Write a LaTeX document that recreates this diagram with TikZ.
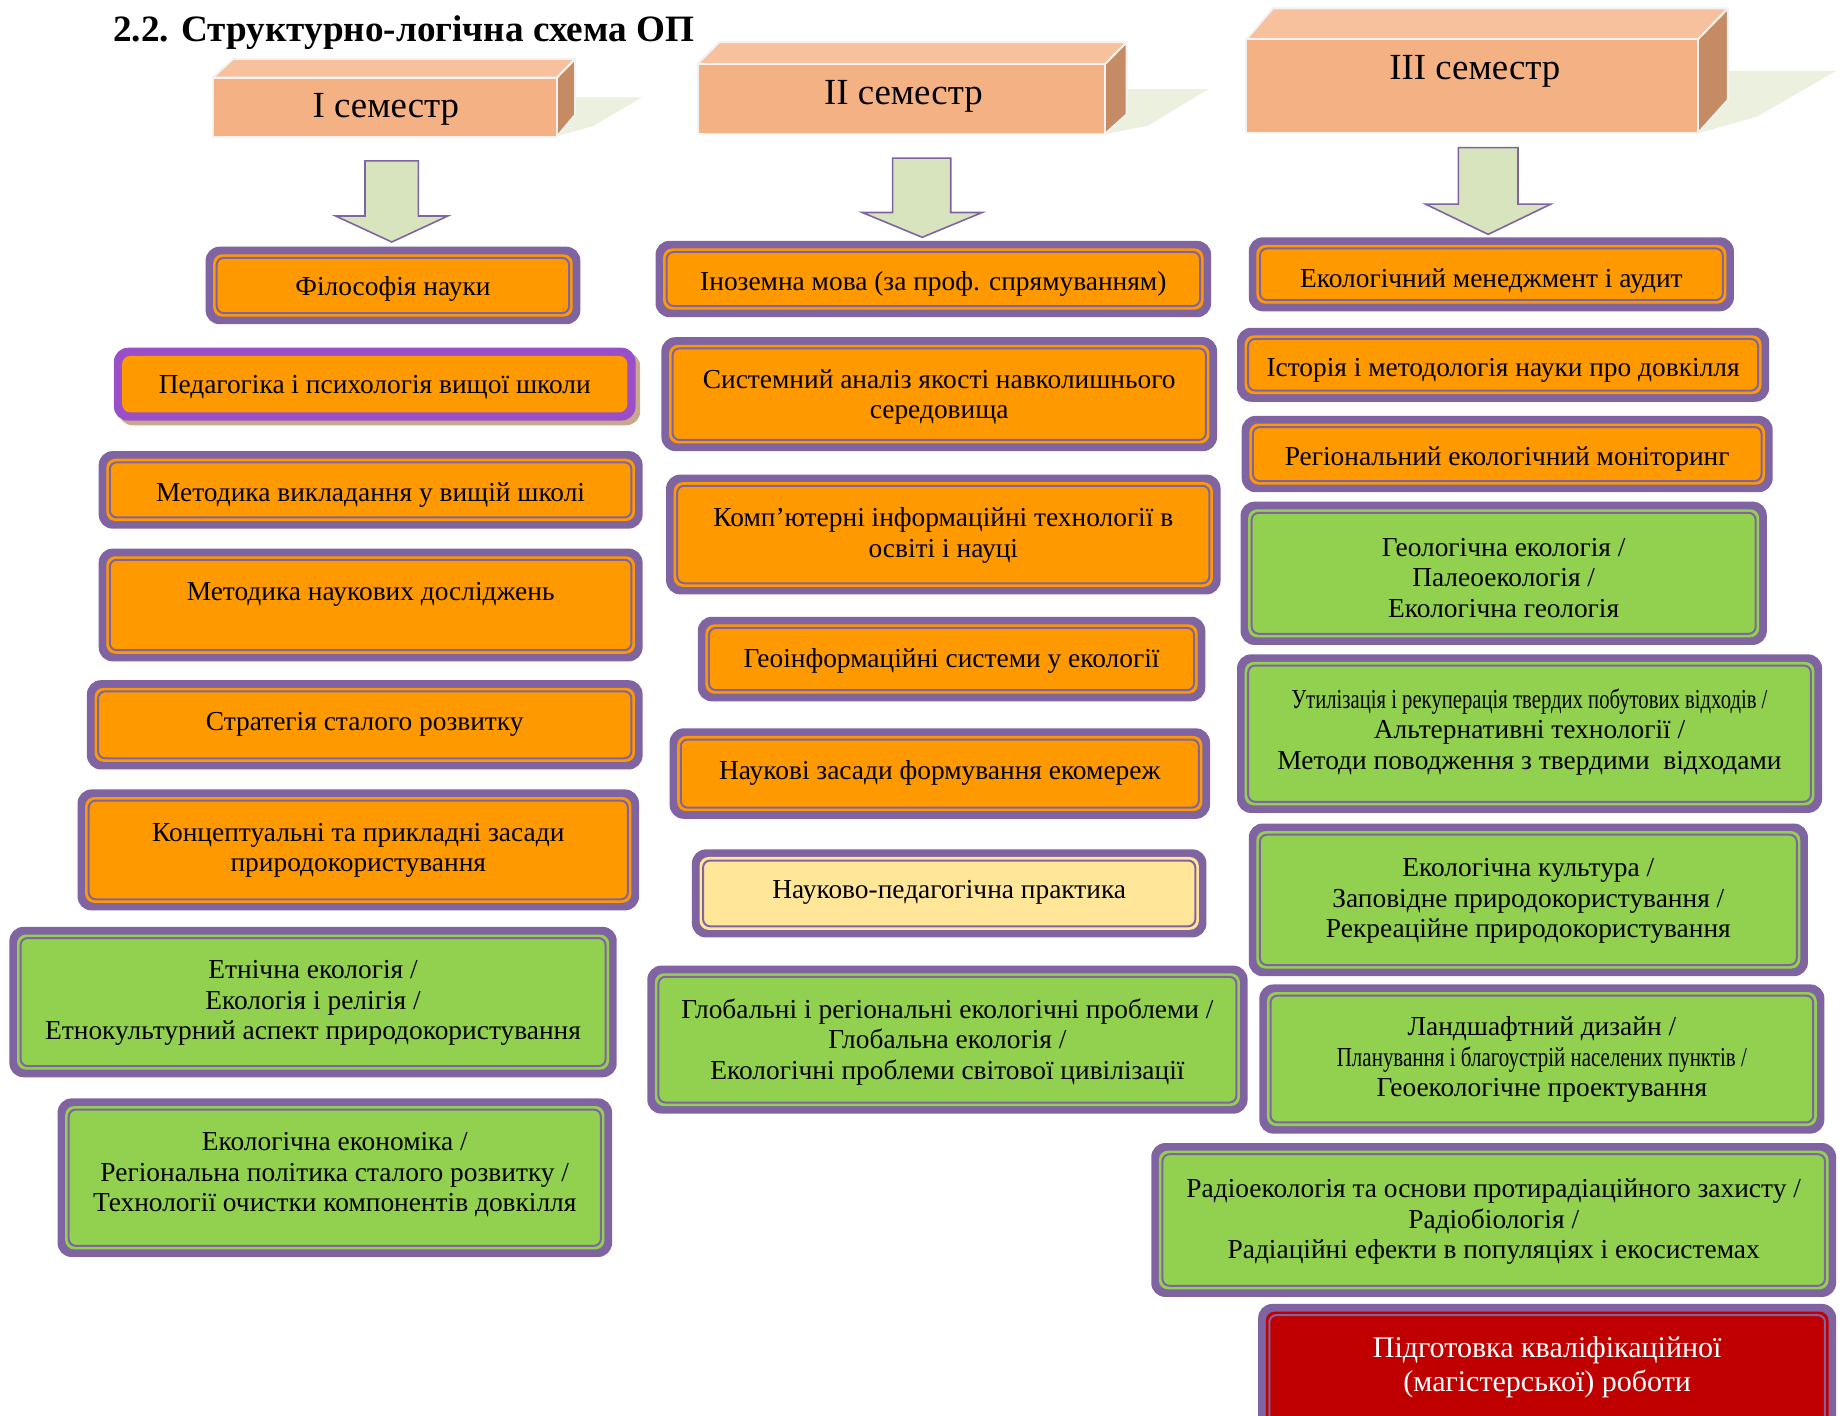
\documentclass[tikz,border=0pt]{standalone}
\usepackage{fontspec}
\setmainfont{Liberation Serif}
\usepackage{graphicx}
\definecolor{pur}{HTML}{8064A2}
\definecolor{org}{HTML}{FF9900}
\definecolor{grn}{HTML}{92D050}
\definecolor{ylw}{HTML}{FFE699}
\definecolor{redf}{HTML}{C00000}
\definecolor{vio}{HTML}{9A4EC8}
\definecolor{tanshd}{HTML}{C9A88C}
\definecolor{frontf}{HTML}{F4B183}
\definecolor{topf}{HTML}{F8C19D}
\definecolor{sidef}{HTML}{C48B65}
\definecolor{shd}{HTML}{EBF1DE}
\definecolor{arw}{HTML}{D7E4BD}
\definecolor{edgec}{HTML}{F2F2F2}
\tikzset{
  txt/.style={align=center,inner sep=0pt,font=\fontsize{13.7}{15.3}\selectfont},
  hdr/.style={inner sep=0pt,font=\fontsize{18.4}{20}\selectfont},
  face/.style={draw=edgec,line width=1pt,line join=round},
  blockarrow/.style={fill=arw,draw=pur,line width=0.8pt},
}
% #1 node options, #2 name, #3 fill, #4 x1, #5 y1, #6 x2, #7 y2, #8 text y, #9 text
\newcommand\cbox[9][]{%
  \fill[pur,rounded corners=7pt] (#4,#5) rectangle (#6,#7);
  \fill[#3,rounded corners=4.5pt] (#4+6.5,#5+6.5) rectangle (#6-6.5,#7-6.5);
  \draw[pur,line width=1pt,rounded corners=3.5pt] (#4+9.5,#5+9.5) rectangle (#6-9.5,#7-9.5);
  \node[txt,#1] (#2) at ({(#4+#6)/2},{#8+3}) {#9};
}
\begin{document}
\begin{tikzpicture}[x=0.5873pt,y=-0.5873pt]
\useasboundingbox (0,0) rectangle (1568,1205);
\clip (0,0) rectangle (1568,1205);
\fill[white] (0,0) rectangle (1568,1205);

% title
\node[anchor=base west,inner sep=0pt,font=\bfseries\fontsize{18.6}{20}\selectfont] (title) at (96,35) {2.2. Структурно-логічна схема ОП};

% ---- semester I header
\fill[shd] (473.9,116) -- (504.8,107.3) -- (546.3,82.8) -- (489.5,82.8) -- cycle;
\filldraw[face,fill=sidef] (473.9,66.1) -- (489.5,50.2) -- (489.5,97.9) -- (473.9,116.4) -- cycle;
\filldraw[face,fill=topf] (181.1,66.1) -- (198.4,50.2) -- (489.5,50.2) -- (473.9,66.1) -- cycle;
\filldraw[face,fill=frontf] (181.1,66.1) rectangle (473.9,116.4);
\node[hdr,anchor=base] (s1) at (328.5,100) {I семестр};
\filldraw[blockarrow] (310.7,137) -- (356.1,137) -- (356.1,183.9) -- (381.1,183.9) -- (333.5,206) -- (285.8,183.9) -- (310.7,183.9) -- cycle;

% ---- semester II header
\fill[shd] (940.6,114) -- (977.3,107) -- (1028.5,75.9) -- (959,75.9) -- cycle;
\filldraw[face,fill=sidef] (940.6,54.5) -- (959,35.8) -- (959,97.4) -- (940.6,114) -- cycle;
\filldraw[face,fill=topf] (593.8,54.5) -- (612.3,35.8) -- (959,35.8) -- (940.6,54.5) -- cycle;
\filldraw[face,fill=frontf] (593.8,54.5) rectangle (940.6,114);
\node[hdr,anchor=base] (s2) at (769,89) {II семестр};
\filldraw[blockarrow] (759.8,134.6) -- (809.3,134.6) -- (809.3,180.9) -- (836,180.9) -- (785,202) -- (734,180.9) -- (759.8,180.9) -- cycle;

% ---- semester III header
\fill[shd] (1445.2,113.5) -- (1495.6,99.3) -- (1562.8,60.4) -- (1470.8,60.4) -- cycle;
\filldraw[face,fill=sidef] (1445.2,33.5) -- (1470.8,7.1) -- (1470.8,85.1) -- (1445.2,113.5) -- cycle;
\filldraw[face,fill=topf] (1061,33.5) -- (1083.6,7.1) -- (1470.8,7.1) -- (1445.2,33.5) -- cycle;
\filldraw[face,fill=frontf] (1061,33.5) rectangle (1445.2,113.5);
\node[hdr,anchor=base] (s3) at (1255.5,67.5) {III семестр};
\filldraw[blockarrow] (1241.4,125.7) -- (1292.2,125.7) -- (1292.2,173.7) -- (1320.2,173.7) -- (1266.8,199.5) -- (1213.3,173.7) -- (1241.4,173.7) -- cycle;

% ---- column 1
\cbox{a1}{org}{175}{210}{494}{276}{243}{Філософія науки}
\fill[tanshd,rounded corners=7pt] (101,300) rectangle (545,362);
\fill[vio,rounded corners=7pt] (97,296) rectangle (541,358);
\fill[org,rounded corners=4pt] (104,303) rectangle (534,351);
\node[txt] (a2) at (319,330) {Педагогіка і психологія вищої школи};
\cbox{a3}{org}{84}{384}{547}{450}{418}{Методика викладання у вищій школі}
\cbox{a4}{org}{84}{467}{547}{563}{503}{Методика наукових досліджень}
\cbox{a5}{org}{74}{579}{547}{655}{614}{Стратегія сталого розвитку}
\cbox{a6}{org}{66}{672}{544}{775}{721}{Концептуальні та прикладні засади\\природокористування}
\cbox{a7}{grn}{8}{789}{525}{917}{851}{Етнічна екологія /\\Екологія і релігія /\\Етнокультурний аспект природокористування}
\cbox{a8}{grn}{49}{935}{521}{1070}{997}{Екологічна економіка /\\Регіональна політика сталого розвитку /\\Технології очистки компонентів довкілля}

% ---- column 2
\cbox{b1}{org}{558}{205}{1031}{270}{239}{Іноземна мова (за проф. спрямуванням)}
\cbox{b2}{org}{563}{287}{1036}{384}{335}{Системний аналіз якості навколишнього\\середовища}
\cbox{b3}{org}{567}{404}{1039}{506}{453}{Комп’ютерні інформаційні технології в\\освіті і науці}
\cbox{b4}{org}{594}{525}{1026}{597}{560}{Геоінформаційні системи у екології}
\cbox{b5}{org}{570}{620}{1030}{697}{655}{Наукові засади формування екомереж}
\cbox{b6}{ylw}{589}{723}{1027}{798}{757}{Науково-педагогічна практика}
\cbox{b7}{grn}{551}{822}{1062}{948}{884}{Глобальні і регіональні екологічні проблеми /\\Глобальна екологія /\\Екологічні проблеми світової цивілізації}

% ---- column 3
\cbox{c1}{org}{1063}{202}{1476}{265}{236}{Екологічний менеджмент і аудит}
\cbox{c2}{org}{1053}{279}{1506}{342}{312}{Історія і методологія науки про довкілля}
\cbox{c3}{org}{1057}{354}{1509}{419}{388}{Регіональний екологічний моніторинг}
\cbox{c4}{grn}{1056}{427}{1504}{549}{489}{Геологічна екологія /\\Палеоекологія /\\Екологічна геологія}
\cbox{c5}{grn}{1053}{557}{1551}{692}{620}{\resizebox{237.9pt}{\height}{Утилізація і рекуперація твердих побутових відходів /}\\Альтернативні технології /\\Методи поводження з твердими\ \ відходами}
\cbox{c6}{grn}{1063}{701}{1539}{831}{764}{Екологічна культура /\\Заповідне природокористування /\\Рекреаційне природокористування}
\cbox{c7}{grn}{1072}{838}{1553}{965}{899}{Ландшафтний дизайн /\\\resizebox{205pt}{\height}{Планування і благоустрій населених пунктів /}\\Геоекологічне проектування}
\cbox{c8}{grn}{980}{973}{1563}{1104}{1037}{Радіоекологія та основи протирадіаційного захисту /\\Радіобіологія /\\Радіаційні ефекти в популяціях і екосистемах}
\cbox[text=white,font=\fontsize{15}{17}\selectfont]{c9}{redf}{1071}{1110}{1563}{1222}{1161}{Підготовка кваліфікаційної\\(магістерської) роботи}
\end{tikzpicture}
\end{document}
